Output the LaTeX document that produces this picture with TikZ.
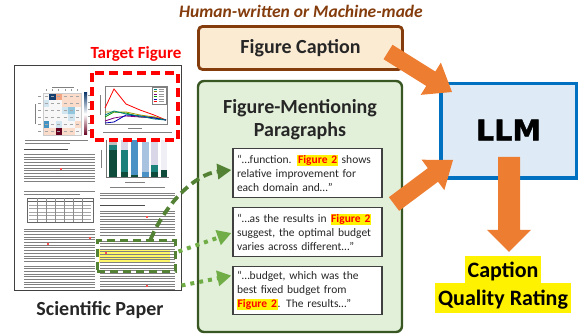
\documentclass[tikz,border=0pt]{standalone}
\usepackage{fontspec}
\setmainfont{Carlito}
\newfontfamily\llmfont[BoldFeatures={FakeBold=1.6}]{DejaVu Sans}
\usetikzlibrary{calc,arrows.meta}
\definecolor{brownT}{HTML}{843C0C}
\definecolor{capfill}{HTML}{FCEBD3}
\definecolor{gfill}{HTML}{E2F0D9}
\definecolor{gborder}{HTML}{385723}
\definecolor{lfill}{HTML}{DEEBF7}
\definecolor{lborder}{HTML}{0070C0}
\definecolor{orA}{HTML}{ED7D31}
\definecolor{gdash}{HTML}{548235}
\definecolor{gdot}{HTML}{70AD47}
\definecolor{txtc}{HTML}{262626}
\definecolor{hW}{HTML}{F7F7F7}
\definecolor{hLB}{HTML}{D1E5F0}
\definecolor{hMB}{HTML}{92C5DE}
\definecolor{hB}{HTML}{4393C3}
\definecolor{hDB}{HTML}{153E6E}
\definecolor{hLP}{HTML}{FBDCCB}
\definecolor{hS}{HTML}{F4A582}
\definecolor{hDR}{HTML}{67001F}
\definecolor{bDG}{HTML}{0E4B3A}
\definecolor{bT}{HTML}{1B7F7A}
\definecolor{bB}{HTML}{4A92C6}
\definecolor{bLB}{HTML}{A7C3DF}
\definecolor{bLV}{HTML}{D9D6E8}
\newcommand\hlfig[1]{{\setlength\fboxsep{0.7pt}\colorbox{yellow}{\textcolor{red}{\bfseries #1}}}}
\newcommand\blockarr[6]{%
  \coordinate (bah) at ($(#2)!#5!(#1)$);
  \fill[#6] ($(#1)!#3!90:(#2)$) -- ($(bah)!#3!90:(#2)$) -- ($(bah)!#4!90:(#2)$) -- (#2)
    -- ($(bah)!#4!-90:(#2)$) -- ($(bah)!#3!-90:(#2)$) -- ($(#1)!#3!-90:(#2)$) -- cycle;}
\begin{document}
\begin{tikzpicture}[x=1pt,y=-1pt,
  tline/.style={draw=black!50, line width=0.95pt},
  hline/.style={draw=black!70, line width=1pt},
  bigfont/.style={font=\fontsize{20}{24}\selectfont\bfseries, text=txtc},
  tbox/.style={draw=black!75, line width=1.3pt, fill=white, text width=141pt, align=left,
    inner xsep=4pt, inner ysep=2pt, minimum height=48.5pt, font=\fontsize{11.5}{14}\selectfont, text=txtc},
  gdashed/.style={draw=gdash, line width=3.8pt, dash pattern=on 9pt off 5pt, -{Triangle[length=14pt,width=15pt]}},
  gdotted/.style={draw=gdot, line width=4pt, dash pattern=on 4pt off 5pt, -{Triangle[length=14pt,width=15pt]}},
  rate/.style={fill=yellow, inner xsep=3pt, inner ysep=0pt, font=\fontsize{22}{26}\selectfont\bfseries, text=black}]
\useasboundingbox (0,0) rectangle (580,336);

% ---------------- Scientific paper thumbnail ----------------
\node[draw=black!75, line width=1.5pt, fill=white, minimum width=167pt, minimum height=225pt, inner sep=0pt] (paper) at (98,178) {};
% heatmap
\foreach \row [count=\r from 0] in {{hW,hDB,hS,hLP,hLP,hLP},{hLB,hW,hW,hLP,hLP,hLP},{hW,hW,hW,hLB,hMB,hW},{hW,hW,hW,hW,hLB,hW},{hB,hW,hLB,hW,hW,hLP},{hLP,hLP,hDR,hLP,hLP,hW}}{
  \foreach \c [count=\k from 0] in \row {\fill[\c] ({43+\k*6.33},{93+\r*7}) rectangle ++(6.33,7);
    \draw[black!35, line width=0.5pt] ({44.6+\k*6.33},{96.5+\r*7}) -- ++(3,0);}}
\draw[black!20, line width=0.3pt] (43,93) rectangle (81,135);
\foreach \r in {0,...,5} {\draw[black!40, line width=0.5pt] (38,{96.5+\r*7}) -- ++(3,0);
  \draw[black!40, line width=0.5pt] ({46+\r*6.33},91) -- ++(0,-1.5);}
\shade[top color=hDB, bottom color=hDR, middle color=white] (84,93) rectangle (87,135);
\foreach \y in {95,102,...,133} {\draw[black!40, line width=0.4pt] (88,\y) -- ++(2,0);}
\draw[tline, line width=0.6pt] (52,87.5) -- (74,87.5);
\draw[tline, line width=0.6pt] (35,104) -- (35,124);
\draw[tline] (25,140) -- (88,140);
\draw[tline] (25,143) -- (70,143);
% left column text 1
\draw[hline] (24,150) -- (68,150);
\foreach \y in {154.5,157.2,...,182} {\draw[tline] (24,\y) -- (95,\y);}
% table
\draw[tline] (24,191) -- (95,191);
\draw[tline] (24,194) -- (80,194);
\draw[black!60, line width=0.6pt] (27,198) rectangle (93,222);
\draw[black!60, line width=0.6pt] (27,201.5) -- (93,201.5);
\foreach \y in {205,208.5,...,221} {\draw[black!35, line width=0.8pt] (29,\y) -- (91,\y);}
\foreach \x in {37,46,55,64,73,82} {\draw[black!45, line width=0.4pt] (\x,198) -- (\x,222);}
% left column text 2
\foreach \y in {229,231.7,...,262} {\draw[tline] (24,\y) -- (95,\y);}
\foreach \y in {266,268.7,...,290} {\draw[tline] (24,\y) -- (95,\y);}
% line chart
\draw[black!50, line width=0.5pt] (105,86) rectangle (167,124);
\draw[red, line width=0.8pt] (105,108) -- (114,89) -- (126,104) -- (140,110) -- (154,115) -- (166,120);
\draw[green!60!black, line width=0.8pt] (105,117) -- (114,112) -- (126,113) -- (140,117) -- (154,117) -- (166,120);
\draw[olive!80!yellow, line width=0.8pt] (105,112) -- (114,112) -- (126,112) -- (140,115) -- (154,117) -- (166,120);
\draw[violet, line width=0.8pt] (105,121) -- (114,118) -- (126,116) -- (140,117) -- (154,118) -- (166,120);
\draw[blue!70!black, line width=0.8pt] (105,123) -- (114,122) -- (126,115) -- (140,116) -- (154,118) -- (166,120);
\draw[teal, line width=0.8pt] (105,115) -- (114,111) -- (126,114) -- (140,116) -- (154,119) -- (166,120);
\draw[black!50, fill=white, line width=0.4pt] (152,87) rectangle (166,104);
\foreach \y/\c in {89/teal,91.5/olive,94/violet,96.5/green!60!black,99/blue!70!black,101.5/red} {\draw[\c, line width=0.8pt] (153.5,\y) -- (157,\y);
  \draw[black!40, line width=0.5pt] (158.5,\y) -- (164,\y);}
\draw[tline, line width=0.6pt] (100,95) -- (100,115);
\draw[tline, line width=0.6pt] (128,128) -- (142,128);
\draw[tline] (103,132.5) -- (172,132.5);
% bar chart
\fill[black!25] (109,140) rectangle (117,145); \fill[bT] (109,145) rectangle (117,150); \fill[bDG] (109,150) rectangle (117,177);
\fill[bLV] (121,140) rectangle (128,150); \fill[bT] (121,150) rectangle (128,172); \fill[bDG] (121,172) rectangle (128,177);
\fill[bB] (131,140) rectangle (138,175); \fill[bDG] (131,175) rectangle (138,177);
\fill[bLB] (142,142) rectangle (149,172); \fill[bB] (142,172) rectangle (149,177);
\fill[bLV] (151,140) rectangle (158,165); \fill[bT] (151,165) rectangle (158,172); \fill[bDG] (151,172) rectangle (158,177);
\fill[bLV!40] (161,140) rectangle (167,170); \fill[bDG] (161,170) rectangle (167,177);
\draw[black!55, line width=0.5pt] (106,140) -- (106,177) -- (169,177);
\draw[tline, line width=0.6pt] (101,150) -- (101,168);
\draw[tline, line width=0.6pt] (125,182) -- (145,182);
\draw[tline] (110,187) -- (165,187);
% right column text
\foreach \y in {193,195.7,198.4} {\draw[tline] (100,\y) -- (175,\y);}
\draw[hline] (100,206) -- (145,206);
\foreach \y in {211,213.7,...,237} {\draw[tline] (100,\y) -- (175,\y);}
\fill[yellow!60] (99,249.5) rectangle (170,263);
\foreach \y in {241,243.7,...,290} {\draw[tline] (100,\y) -- (175,\y);}
% citation marks
\foreach \p in {(60,168),(89,237),(47,243),(146,216),(105,252),(146,285)} {\fill[red!70] \p rectangle ++(2,2);}
% highlight frames
\draw[red, line width=3.5pt, dash pattern=on 9pt off 5pt] (92,73) rectangle (178,140);
\node[draw=gdash, line width=3pt, dash pattern=on 8pt off 5pt, minimum width=78pt, minimum height=31pt, inner sep=0pt] (gfig) at (136,256.5) {};

\node[font=\fontsize{17}{20}\selectfont\bfseries, text=red] (tfig) at (136,54) {Target Figure};
\node[bigfont] (sci) at (100,310) {Scientific Paper};

% ---------------- Middle column ----------------
\node[font=\fontsize{17.5}{20}\selectfont\bfseries\itshape, text=brownT] (title) at (301,11) {Human-written or Machine-made};
\node[draw=brownT, line width=2.8pt, fill=capfill, rounded corners=4pt, minimum width=204pt, minimum height=43pt, bigfont] (cap) at (300.5,48) {Figure Caption};
\node[draw=gborder, line width=2.4pt, fill=gfill, rounded corners=6pt, minimum width=204pt, minimum height=251pt, inner sep=0pt] (gbox) at (300,206.5) {};
\node[bigfont, align=center] (glabel) at (300,119.5) {Figure-Mentioning\\[-1pt]Paragraphs};

\node[tbox] (box1) at (307.5,173) {“…function. \hlfig{Figure 2} shows\\relative improvement for\\each domain and…”};
\node[tbox] (box2) at (307.5,232) {“…as the results in \hlfig{Figure 2}\\suggest, the optimal budget\\varies across different…”};
\node[tbox] (box3) at (307.5,290.5) {“…budget, which was the\\best fixed budget from\\\hlfig{Figure 2}. The results…”};

% green arrows
\coordinate (ga1) at ($(gfig.north west)!0.68!(gfig.north east)$);
\draw[gdashed] (ga1) .. controls (166,203) and (195,174) .. ($(box1.west)+(-1,-3)$);
\coordinate (ga2) at ($(gfig.east)+(2,-5)$);
\draw[gdotted] (ga2) -- ($(box2.west)+(-1,1)$);
\coordinate (ga3) at ($(gfig.south east)+(5,12)$);
\draw[gdotted] (ga3) -- ($(box3.north west)+(-1,10)$);

% ---------------- Right column ----------------
\node[draw=lborder, line width=3.5pt, fill=lfill, minimum width=135.5pt, minimum height=94.5pt,
  font=\llmfont\bfseries\fontsize{28.6}{30}\selectfont] (llm) at (508.5,131) {\raisebox{2pt}{LLM}};
\node[rate, text height=21pt, text depth=6pt] (cq1) at (503,269.5) {Caption};
\node[rate, text height=22pt, text depth=8pt] (cq2) at (503,298) {Quality Rating};

% orange block arrows
\coordinate (o1s) at (388,52);
\coordinate (o1e) at ($(llm.north west)+(13,10)$);
\coordinate (o2s) at (394,204);
\coordinate (o2e) at ($(llm.north west)+(14,78)$);
\blockarr{o1s}{o1e}{8.5pt}{19pt}{25pt}{orA}
\blockarr{o2s}{o2e}{8.5pt}{19pt}{25pt}{orA}
\coordinate (ds) at ($(llm.south)+(0.5,-23)$);
\coordinate (de) at ($(cq1.north)+(6,-4)$);
\blockarr{ds}{de}{11pt}{22pt}{22pt}{orA}
\end{tikzpicture}
\end{document}
